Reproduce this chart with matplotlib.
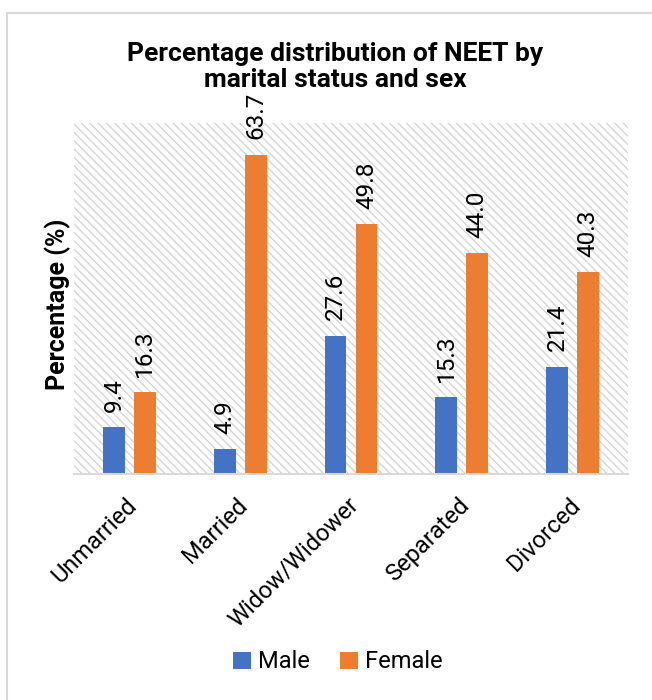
import matplotlib.pyplot as plt
import matplotlib.patches as mpatches
from matplotlib.transforms import ScaledTranslation
import numpy as np

plt.rcParams['font.family'] = ['Roboto', 'DejaVu Sans']
plt.rcParams['hatch.linewidth'] = 1.0

# data
categories = ['Unmarried', 'Married', 'Widow/Widower', 'Separated', 'Divorced']
male = [9.4, 4.9, 27.6, 15.3, 21.4]
female = [16.3, 63.7, 49.8, 44.0, 40.3]

blue = '#4472C4'
orange = '#ED7D31'

fig = plt.figure(figsize=(6.52, 7.0), dpi=100)
ax = fig.add_axes([74 / 652, 1 - 474 / 700, 554 / 652, 351 / 700])

# outer chart border (Excel style)
fig.patches.append(mpatches.Rectangle((7 / 652, -0.1), 1.2, 0.1 + 1 - 13 / 700,
                                      transform=fig.transFigure, fill=False,
                                      edgecolor='#d9d9d9', linewidth=1.5, zorder=0))

# hatched plot area
ax.add_patch(mpatches.Rectangle((0, 0), 1, 1, transform=ax.transAxes,
                                facecolor='white', edgecolor='#d6d6d6',
                                linewidth=0, hatch='\\\\\\\\', zorder=0))

x = np.arange(len(categories))
w = 0.196
b1 = ax.bar(x - 0.14, male, w, color=blue, label='Male', zorder=2)
b2 = ax.bar(x + 0.14, female, w, color=orange, label='Female', zorder=2)

# value labels above the bars, rotated like in Excel
for bars in (b1, b2):
    for rect in bars:
        v = rect.get_height()
        ax.annotate(f'{v:.1f}', (rect.get_x() + rect.get_width() / 2, v),
                    xytext=(0, 11), textcoords='offset points',
                    rotation=90, ha='center', va='bottom', fontsize=17.5)

ax.set_xlim(-0.5, len(categories) - 0.5)
ax.set_ylim(0, 70)
ax.set_yticks([])
ax.set_xticks(x)
ax.set_xticklabels(categories, rotation=45, ha='right', va='top',
                   rotation_mode='anchor', fontsize=17)
ax.tick_params(axis='x', length=0, pad=14)
shift = ScaledTranslation(-4 / 100, 0, fig.dpi_scale_trans)
for lab in ax.get_xticklabels():
    lab.set_transform(lab.get_transform() + shift)

for s in ['top', 'right', 'left']:
    ax.spines[s].set_visible(False)
ax.spines['bottom'].set_color('#d9d9d9')
ax.spines['bottom'].set_linewidth(1.5)

fig.text(58 / 652, 1 - 304 / 700, 'Percentage (%)', rotation=90, ha='center', va='center',
         fontsize=18, fontweight='bold')

fig.text(335 / 652, 1 - 67 / 700, 'Percentage distribution of NEET by\nmarital status and sex',
         ha='center', va='center', fontsize=19, fontweight='bold', linespacing=1.1)

fig.legend(loc='center', bbox_to_anchor=(338 / 652, 1 - 662 / 700), ncol=2,
           frameon=False, fontsize=17, handlelength=0.75, handleheight=0.75,
           handletextpad=0.3, columnspacing=1.3)

fig.savefig('out.png', dpi=100)
